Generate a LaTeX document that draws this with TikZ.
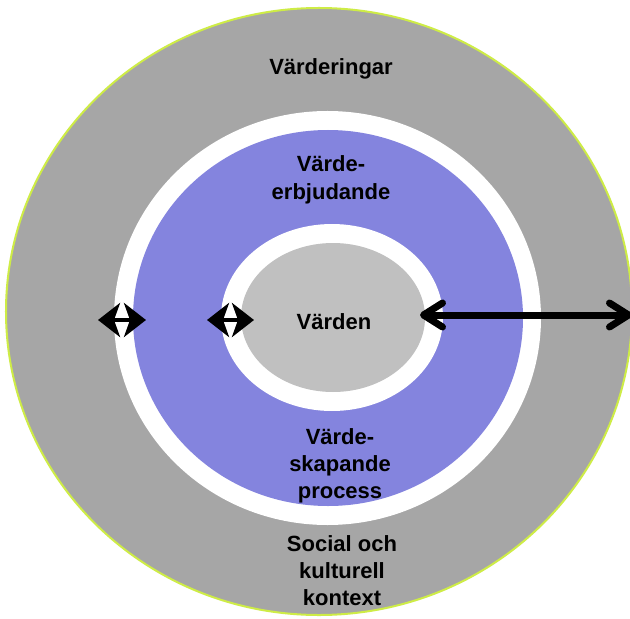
\documentclass[tikz,border=0pt]{standalone}
\usepackage{fontspec}
\setmainfont{Liberation Sans}
\usetikzlibrary{shapes.geometric,arrows.meta}
\definecolor{outergray}{RGB}{166,166,166}
\definecolor{ringblue}{RGB}{132,132,222}
\definecolor{innergray}{RGB}{192,192,192}
\definecolor{rimgreen}{RGB}{206,236,70}
\tikzset{
  disc/.style={ellipse, inner sep=0pt, outer sep=0pt},
  lbl/.style={font=\bfseries\fontsize{22bp}{27bp}\selectfont, align=center, inner sep=0pt, anchor=base},
  smallarrow/.style={line width=4.5bp, {Stealth[length=22bp, width=34bp, inset=6bp]}-{Stealth[length=22bp, width=34bp, inset=6bp]}},
  longarrow/.style={line width=7bp, {Straight Barb[length=19bp, width=24bp, round]}-{Straight Barb[length=19bp, width=24bp, round]}}
}
\begin{document}
\begin{tikzpicture}[x=1bp,y=-1bp]
\useasboundingbox (0,0) rectangle (630,619);
\fill[white] (0,0) rectangle (630,619);
\node[disc, fill=outergray, draw=rimgreen, line width=2bp, minimum width=626bp, minimum height=607bp] (outer) at (319,311.5) {};
\node[disc, fill=white, minimum width=427bp, minimum height=414bp] (whitering) at (327.5,318) {};
\node[disc, fill=ringblue, minimum width=390bp, minimum height=376bp] (blue) at (328,318) {};
\node[disc, fill=white, minimum width=222bp, minimum height=187bp] (innerwhite) at (332,317.5) {};
\node[disc, fill=innergray, minimum width=184bp, minimum height=149bp] (core) at (333,317.5) {};

\node[lbl] (vard) at (331,75) {Värderingar};
\node[lbl] (erbj) at (331,199) {Värde-\\erbjudande};
\node[lbl] (varden) at (334,329) {Värden};
\node[lbl] (skap) at (340,498) {Värde-\\skapande\\process};
\node[lbl] (soc) at (342,605) {Social och\\kulturell\\kontext};

\coordinate (a1) at (98,320);
\coordinate (b1) at (146,320);
\coordinate (a2) at (207,320);
\coordinate (b2) at (254,320);
\coordinate (a3) at (420,315);
\coordinate (b3) at (632,315);
\draw[smallarrow] (a1) -- (b1);
\draw[smallarrow] (a2) -- (b2);
\draw[longarrow] (a3) -- (b3);
\end{tikzpicture}
\end{document}
